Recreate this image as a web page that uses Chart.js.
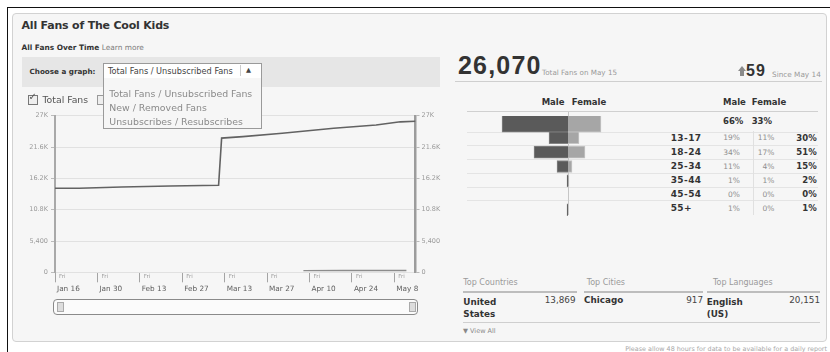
<!DOCTYPE html>
<html><head><meta charset="utf-8">
<script src="https://cdn.jsdelivr.net/npm/chart.js@4"></script>
<style>
html,body{margin:0;padding:0;background:#fff;width:830px;height:352px;overflow:hidden;font-family:"DejaVu Sans",sans-serif;color:#333}
.a{position:absolute;white-space:nowrap;line-height:1}
.b{font-weight:bold}
.ln{position:absolute;height:1px;background:#e4e4e4}
#frame{position:absolute;left:7px;top:7px;width:840px;height:360px;border-top:1px solid #111;border-left:1px solid #111}
#panel{position:absolute;left:12px;top:13px;width:813px;height:327px;border:1px solid #d2d2d2;border-radius:4px;background:#f6f6f6}
canvas{position:absolute}
</style>
</head><body>
<div id="frame"></div>
<div id="panel"></div>

<div class="a b" style="left:21.5px;top:19.5px;font-size:11px;letter-spacing:-0.2px;color:#333">All Fans of The Cool Kids</div>
<div class="a" style="left:21.5px;top:43.6px;font-size:7.4px;color:#333"><span class="b">All Fans Over Time</span> <span style="color:#7d7d7d">Learn more</span></div>

<div style="position:absolute;left:22px;top:57px;width:418px;height:30px;background:#e6e6e6"></div>
<div class="a b" style="left:29.5px;top:68.4px;font-size:7.2px;color:#333">Choose a graph:</div>
<div style="position:absolute;left:103px;top:63px;width:157px;height:14px;border:1px solid #9a9a9a;background:#fff"></div>
<div class="a" style="left:108px;top:66.8px;font-size:8.2px;color:#444">Total Fans / Unsubscribed Fans</div>
<div style="position:absolute;left:240px;top:65px;width:1px;height:11px;background:#ccc"></div>
<div class="a" style="left:246px;top:67px;font-size:6.5px;color:#444">▲</div>

<canvas id="fans" width="430" height="195" style="left:14px;top:100px"></canvas>

<div style="position:absolute;left:28px;top:94.5px;width:8px;height:8px;border:1px solid #777;background:#eee"></div>
<div class="a" style="left:28.5px;top:92px;font-size:10px;color:#555">✓</div>
<div class="a" style="left:42.5px;top:94.6px;font-size:9.3px;color:#555">Total Fans</div>
<div style="position:absolute;left:97px;top:94.5px;width:8px;height:8px;border:1px solid #999;background:#eee"></div>

<div style="position:absolute;left:103px;top:78px;width:157px;height:50px;border:1px solid #9a9a9a;border-top:none;background:#f6f6f6;z-index:5"></div>
<div class="a" style="left:109.3px;top:88.6px;font-size:9.4px;color:#8a8a8a;z-index:6">Total Fans / Unsubscribed Fans</div>
<div class="a" style="left:109.3px;top:103px;font-size:9.4px;color:#8a8a8a;z-index:6">New / Removed Fans</div>
<div class="a" style="left:109.3px;top:117px;font-size:9.4px;color:#8a8a8a;z-index:6">Unsubscribes / Resubscribes</div>

<div style="position:absolute;left:53px;top:298.5px;width:363px;height:14px;border:1.5px solid #8a8a8a;border-radius:4px;background:#fbfbfb"></div>
<div style="position:absolute;left:57px;top:301.5px;width:5px;height:8px;border:1px solid #aaa;background:#ddd"></div>
<div style="position:absolute;left:409px;top:301.5px;width:5px;height:8px;border:1px solid #aaa;background:#ddd"></div>

<!-- right side -->
<div class="a b" style="left:458px;top:52.5px;font-size:25px;letter-spacing:1.2px;font-family:'Liberation Sans',sans-serif;color:#333">26,070</div>
<div class="a" style="left:542px;top:69px;font-size:7.2px;color:#999">Total Fans on May 15</div>
<div style="position:absolute;left:738px;top:66px;width:0;height:0;border-left:4px solid transparent;border-right:4px solid transparent;border-bottom:5px solid #8a8a8a"></div>
<div style="position:absolute;left:740px;top:71px;width:4px;height:5px;background:#8a8a8a"></div>
<div class="a b" style="left:746px;top:62.5px;font-size:16px;letter-spacing:1px;font-family:'Liberation Sans',sans-serif;color:#333">59</div>
<div class="a" style="left:772px;top:71px;font-size:7.3px;color:#999">Since May 14</div>
<div style="position:absolute;left:455px;top:80.5px;width:367px;height:1.5px;background:#cfcfcf"></div>

<div class="a b" style="left:520px;width:44.5px;text-align:right;top:98px;font-size:8.5px">Male</div>
<div class="a b" style="left:571.7px;top:98px;font-size:8.5px">Female</div>
<div class="a b" style="left:723px;top:98px;font-size:8.5px">Male</div>
<div class="a b" style="left:751.7px;top:98px;font-size:8.5px">Female</div>
<div style="position:absolute;left:467px;top:111px;width:351px;height:1px;background:#d0d0d0"></div>
<div id="rowlines"></div>
<div style="position:absolute;left:752.5px;top:131px;width:1px;height:84px;background:#e0e0e0"></div>
<div style="position:absolute;left:567.5px;top:112px;width:1.5px;height:103px;background:#c6c6c6"></div>

<canvas id="pyr" width="200" height="101" style="left:468px;top:116px"></canvas>
<div id="agetable"></div>

<div class="a" style="left:463.3px;top:279.3px;font-size:8px;color:#9a9a9a">Top Countries</div>
<div class="a" style="left:586.7px;top:279.3px;font-size:8px;color:#9a9a9a">Top Cities</div>
<div class="a" style="left:713px;top:279.3px;font-size:8px;color:#9a9a9a">Top Languages</div>
<div style="position:absolute;left:463px;top:290.5px;width:114px;height:2px;background:#bdbdbd"></div>
<div style="position:absolute;left:584px;top:290.5px;width:119px;height:2px;background:#bdbdbd"></div>
<div style="position:absolute;left:707px;top:290.5px;width:113px;height:2px;background:#bdbdbd"></div>
<div class="a b" style="left:463.3px;top:296.2px;font-size:8.8px;line-height:12px">United<br>States</div>
<div class="a" style="left:520px;width:55.5px;text-align:right;top:296.4px;font-size:8.8px;color:#444">13,869</div>
<div class="a b" style="left:584px;top:296.2px;font-size:8.8px">Chicago</div>
<div class="a" style="left:650px;width:53px;text-align:right;top:296.4px;font-size:8.8px;color:#444">917</div>
<div class="a b" style="left:706.7px;top:296.2px;font-size:8.8px;line-height:12px">English<br>(US)</div>
<div class="a" style="left:760px;width:60px;text-align:right;top:296.4px;font-size:8.8px;color:#444">20,151</div>
<div style="position:absolute;left:463px;top:321.5px;width:357px;height:1.5px;background:#cfcfcf"></div>
<div class="a" style="left:463px;top:328px;font-size:6.5px;color:#888">▼ View All</div>

<div class="a" style="left:583px;width:244px;text-align:right;top:345.5px;font-size:6.4px;color:#a8a8a8">Please allow 48 hours for data to be available for a daily report</div>

<script>
// ---- Fans over time (days since Fri Jan 16) ----
const fanDays = [0, 8, 22, 38, 54, 55, 62, 75, 92, 106, 114, 119];
const totalFans = [14490, 14500, 14720, 14890, 15010, 23150, 23400, 23980, 24840, 25410, 25960, 26070];
const unsubDays = [82, 95, 105, 116];
const unsubscribedFans = [290, 300, 310, 320];
const xTickDays = [0, 14, 28, 42, 56, 70, 84, 98, 112];
const xTickWeekdays = ['Fri', 'Fri', 'Fri', 'Fri', 'Fri', 'Fri', 'Fri', 'Fri', 'Fri'];
const xTickDates = ['Jan 16', 'Jan 30', 'Feb 13', 'Feb 27', 'Mar 13', 'Mar 27', 'Apr 10', 'Apr 24', 'May 8'];
const yTickValues = [0, 5400, 10800, 16200, 21600, 27000];
const yTickLabels = ['0', '5,400', '10.8K', '16.2K', '21.6K', '27K'];

// ---- Demographics ----
const ageGroups = ['13-17', '18-24', '25-34', '35-44', '45-54', '55+'];
const malePct = [19, 34, 11, 1, 0, 1];
const femalePct = [11, 17, 4, 1, 0, 0];
const totalPct = [30, 51, 15, 2, 0, 1];
const maleShare = 66;
const femaleShare = 33;

const F = 'DejaVu Sans';
const setX = s => { s.ticks = xTickDays.map(v => ({ value: v })); };
const setY = s => { s.ticks = yTickValues.map(v => ({ value: v })); };

new Chart(document.getElementById('fans'), {
  type: 'line',
  data: {
    datasets: [
      { label: 'Total Fans', data: fanDays.map((d, i) => ({ x: d, y: totalFans[i] })),
        borderColor: '#626262', borderWidth: 1.6, pointRadius: 0, tension: 0 },
      { label: 'Unsubscribed Fans', data: unsubDays.map((d, i) => ({ x: d, y: unsubscribedFans[i] })),
        borderColor: '#8c8c8c', borderWidth: 1.4, pointRadius: 0, tension: 0 }
    ]
  },
  options: {
    responsive: false, animation: false, devicePixelRatio: 1,
    layout: { padding: { top: 15.8, left: 0, right: 0, bottom: 0 } },
    plugins: { legend: { display: false }, tooltip: { enabled: false } },
    scales: {
      x: { type: 'linear', position: 'bottom', min: 0, max: 119, weight: 0,
        afterBuildTicks: setX, afterFit: s => { s.height = 10; },
        grid: { drawOnChartArea: false, drawTicks: true, tickLength: 10, tickColor: '#a4a4a4', tickWidth: 1 },
        border: { display: false },
        ticks: { callback: (v, i) => xTickWeekdays[i], font: { family: F, size: 5.5 }, color: '#9c9c9c',
          align: 'start', labelOffset: 4, padding: -8.8, maxRotation: 0, autoSkip: false } },
      x2: { type: 'linear', position: 'bottom', min: 0, max: 119, weight: 1,
        afterBuildTicks: setX, afterFit: s => { s.height = 12.7; },
        grid: { display: false, drawTicks: false, tickLength: 0 }, border: { display: false },
        ticks: { callback: (v, i) => xTickDates[i], font: { family: F, size: 7.3 }, color: '#5e5e5e',
          align: 'start', labelOffset: 2, padding: 2.4, maxRotation: 0, autoSkip: false } },
      y: { position: 'left', min: 0, max: 27000,
        afterBuildTicks: setY, afterFit: s => { s.width = 41; },
        grid: { color: '#e1e1e1', tickLength: 4, tickColor: '#bbb' },
        border: { color: '#a9a9a9', width: 2 },
        ticks: { callback: (v, i) => yTickLabels[i], font: { family: F, size: 6.5 }, color: '#9a9a9a', padding: 3 } },
      yR: { position: 'right', min: 0, max: 27000,
        afterBuildTicks: setY, afterFit: s => { s.width = 28.5; },
        grid: { drawOnChartArea: false, tickLength: 4, tickColor: '#bbb' },
        border: { color: '#9c9c9c', width: 2.5 },
        ticks: { callback: (v, i) => yTickLabels[i], font: { family: F, size: 6.5 }, color: '#9a9a9a', padding: 2 } }
    }
  }
});

// Age/gender pyramid
const nulls = ageGroups.map(() => null);
new Chart(document.getElementById('pyr'), {
  type: 'bar',
  data: {
    labels: ['All'].concat(ageGroups),
    datasets: [
      { label: 'Male', data: [-maleShare].concat(nulls), backgroundColor: '#5a5a5a', borderColor: '#858585', borderWidth: 1, barThickness: 18, stack: 's' },
      { label: 'Female', data: [femaleShare].concat(nulls), backgroundColor: '#a6a6a6', borderColor: '#c6c6c6', borderWidth: 1, barThickness: 18, stack: 's' },
      { label: 'Male by age', data: [null].concat(malePct.map(v => -v)), backgroundColor: '#5a5a5a', borderColor: '#858585', borderWidth: 1, barThickness: 12, stack: 's' },
      { label: 'Female by age', data: [null].concat(femalePct), backgroundColor: '#a6a6a6', borderColor: '#c6c6c6', borderWidth: 1, barThickness: 12, stack: 's' }
    ]
  },
  options: {
    indexAxis: 'y', responsive: false, animation: false, devicePixelRatio: 1,
    layout: { padding: 0 },
    plugins: { legend: { display: false }, tooltip: { enabled: false } },
    scales: {
      x: { display: false, min: -100, max: 100, stacked: true },
      y: { display: false, stacked: true }
    }
  }
});

// table text beside the pyramid
const rowCenters = [138, 152.3, 166.5, 180.6, 194.4, 208.4];
const lineYs = [132, 145, 159, 172.6, 186.6, 200.2];
let html = '';
lineYs.forEach(y => { html += `<div class="ln" style="left:467px;top:${y}px;width:351px"></div>`; });
document.getElementById('rowlines').innerHTML = html;
html = `<div class="a b" style="left:723px;top:${121 - 4.25}px;font-size:8.5px">${maleShare}%</div>` +
       `<div class="a b" style="left:751.7px;top:${121 - 4.25}px;font-size:8.5px">${femaleShare}%</div>`;
ageGroups.forEach((g, i) => {
  const c = rowCenters[i];
  html += `<div class="a b" style="left:670.7px;top:${c - 4.5}px;font-size:9px;letter-spacing:0.4px;color:#333">${g}</div>`;
  html += `<div class="a" style="left:700px;width:40px;text-align:right;top:${c - 3.75}px;font-size:7.5px;color:#8e8e8e">${malePct[i]}%</div>`;
  html += `<div class="a" style="left:734px;width:40.3px;text-align:right;top:${c - 3.75}px;font-size:7.5px;color:#8e8e8e">${femalePct[i]}%</div>`;
  html += `<div class="a b" style="left:770px;width:46.7px;text-align:right;top:${c - 4.25}px;font-size:8.5px;color:#333">${totalPct[i]}%</div>`;
});
document.getElementById('agetable').innerHTML = html;
</script>
</body></html>
